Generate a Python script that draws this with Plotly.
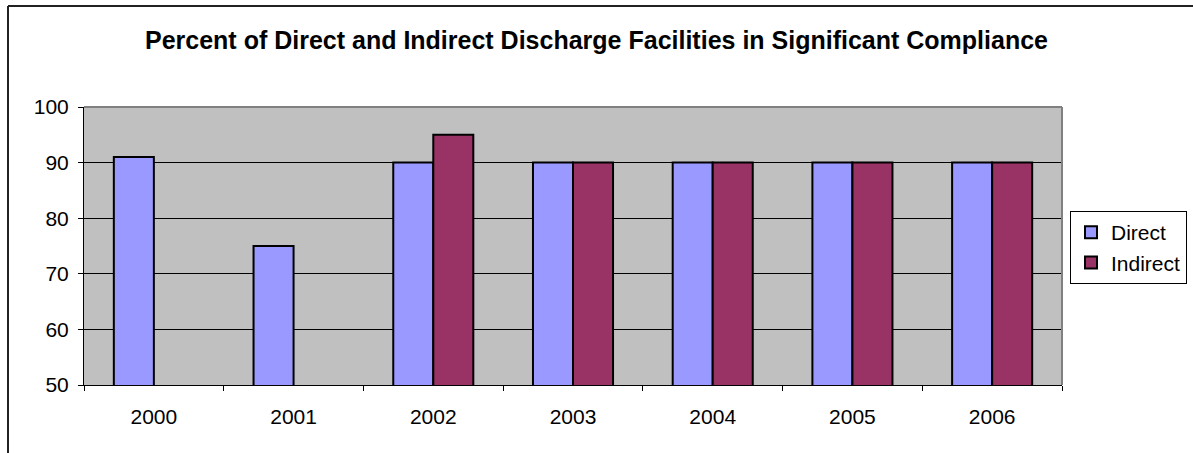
import plotly.graph_objects as go

years = ["2000", "2001", "2002", "2003", "2004", "2005", "2006"]
direct = [91, 75, 90, 90, 90, 90, 90]
indirect = [None, None, 95, 90, 90, 90, 90]
title = "Percent of Direct and Indirect Discharge Facilities in Significant Compliance"

W, H = 1193, 453
L, R, T, B = 84, 1062, 107, 385

def px(x):
    return (x - L) / (R - L)

def py(y):
    return (B - y) / (B - T)

fig = go.Figure()
fig.add_trace(go.Bar(name="Direct", x=years, y=direct, marker=dict(color="#9999FF", line=dict(color="black", width=2))))
fig.add_trace(go.Bar(name="Indirect", x=years, y=indirect, marker=dict(color="#993366", line=dict(color="black", width=2))))

fig.update_layout(
    width=W, height=H,
    margin=dict(l=L, r=W - R, t=T, b=H - B, pad=0, autoexpand=False),
    paper_bgcolor="white", plot_bgcolor="#C0C0C0",
    barmode="group", bargap=0.427, bargroupgap=0,
    font=dict(family="Liberation Sans, Arial", size=21, color="black"),
    title=dict(text="<b>" + title + "</b>", x=0.5, xref="container", xanchor="center",
               y=1 - 40 / H, yanchor="middle", font=dict(size=25)),
    showlegend=True,
    legend=dict(x=px(1070), y=py(211), xanchor="left", yanchor="top",
                bordercolor="black", borderwidth=1, bgcolor="white",
                font=dict(size=21), itemwidth=30, tracegroupgap=0),
    xaxis=dict(type="category", showline=True, linecolor="black", linewidth=1,
               ticks="outside", tickson="boundaries", ticklen=5, tickcolor="black",
               showgrid=False, tickfont=dict(size=21), fixedrange=True,
               ticklabelstandoff=13),
    yaxis=dict(range=[50, 100], dtick=10, showline=True, linecolor="black", linewidth=1,
               ticks="outside", ticklen=5, tickcolor="black", showgrid=True,
               gridcolor="black", gridwidth=1, tickfont=dict(size=21), zeroline=False,
               fixedrange=True, ticklabelstandoff=5),
    shapes=[
        dict(type="line", xref="paper", yref="paper", x0=0, x1=1, y0=1, y1=1,
             line=dict(color="#808080", width=2), layer="above"),
        dict(type="line", xref="paper", yref="paper", x0=1, x1=1, y0=0, y1=1,
             line=dict(color="#808080", width=2), layer="above"),
        dict(type="line", xref="paper", yref="paper", x0=px(8), x1=px(8), y0=py(6), y1=py(H + 5),
             line=dict(color="#222222", width=2)),
        dict(type="line", xref="paper", yref="paper", x0=px(8), x1=px(W + 5), y0=py(6), y1=py(6),
             line=dict(color="#222222", width=2)),
    ],
)

fig.write_html("out.html", config={"displayModeBar": False},
               post_script="document.body.style.margin='0';document.body.style.overflow='hidden';")
